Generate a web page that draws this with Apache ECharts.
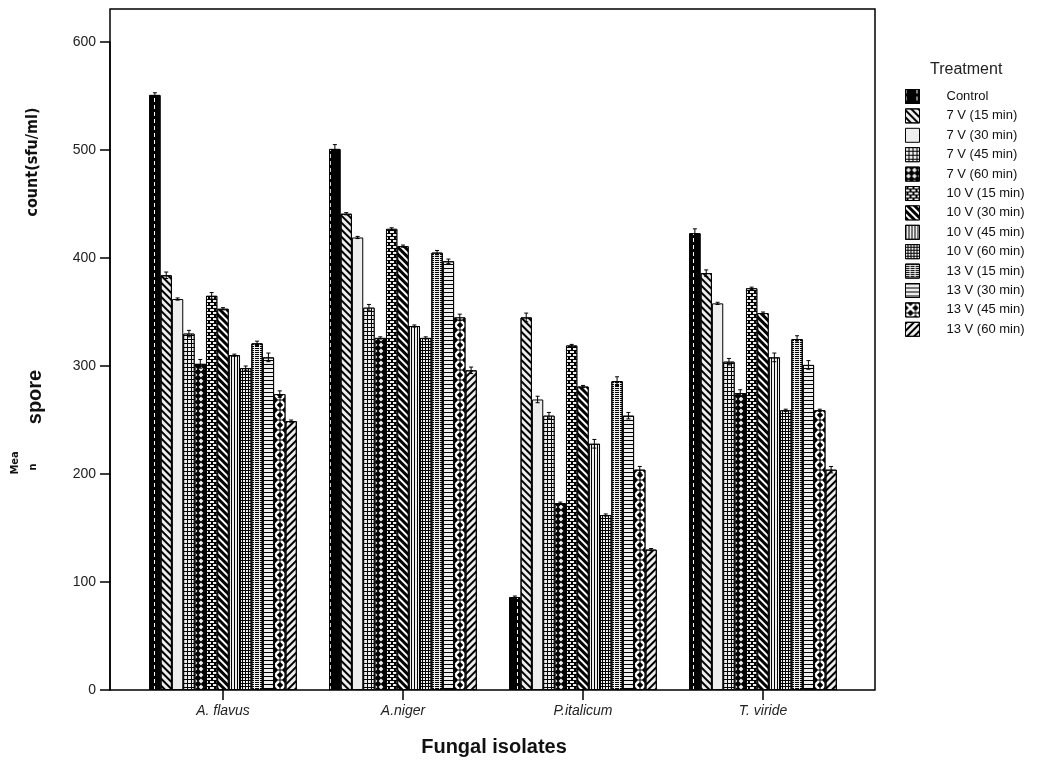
<!DOCTYPE html>
<html>
<head>
<meta charset="utf-8">
<script src="https://cdn.jsdelivr.net/npm/echarts@6/dist/echarts.min.js"></script>
<style>
  html, body { margin: 0; padding: 0; background: #fff; }
  #chart { width: 1040px; height: 766px; }
</style>
</head>
<body>
<div id="chart"></div>
<script>
const isolates = ['A. flavus', 'A.niger', 'P.italicum', 'T. viride'];
const treatments = ['Control', '7 V (15 min)', '7 V (30 min)', '7 V (45 min)', '7 V (60 min)',
    '10 V (15 min)', '10 V (30 min)', '10 V (45 min)', '10 V (60 min)',
    '13 V (15 min)', '13 V (30 min)', '13 V (45 min)', '13 V (60 min)'];

// mean spore count per treatment, in isolate order
const control = [551, 501, 86, 423];
const v7m15 = [384, 441, 345, 386];
const v7m30 = [362, 419, 269, 358];
const v7m45 = [330, 354, 254, 304];
const v7m60 = [302, 326, 173, 275];
const v10m15 = [365, 427, 319, 372];
const v10m30 = [353, 411, 281, 349];
const v10m45 = [310, 337, 228, 308];
const v10m60 = [298, 326, 162, 259];
const v13m15 = [321, 405, 286, 325];
const v13m30 = [308, 397, 254, 301];
const v13m45 = [274, 345, 204, 259];
const v13m60 = [249, 296, 130, 204];

// error bar half widths
const errControl = [2, 4, 1, 4];
const err7m15 = [3, 1, 4, 3];
const err7m30 = [1, 1, 3, 1];
const err7m45 = [3, 3, 3, 3];
const err7m60 = [4, 1, 1, 3];
const err10m15 = [3, 1, 1, 1];
const err10m30 = [1, 1, 1, 1];
const err10m45 = [1, 1, 4, 4];
const err10m60 = [2, 1, 1, 1];
const err13m15 = [2, 2, 4, 3];
const err13m30 = [4, 2, 3, 4];
const err13m45 = [3, 3, 3, 1];
const err13m60 = [1, 3, 1, 3];

const means = [control, v7m15, v7m30, v7m45, v7m60, v10m15, v10m30, v10m45, v10m60, v13m15, v13m30, v13m45, v13m60];
const errs = [errControl, err7m15, err7m30, err7m45, err7m60, err10m15, err10m30, err10m45, err10m60, err13m15, err13m30, err13m45, err13m60];

const LIGHT = '#eeeeee';
const xPath = 'path://M0,0L2,0L5,3L8,0L10,0L10,2L7,5L10,8L10,10L8,10L5,7L2,10L0,10L0,8L3,5L0,2Z';

// fill + hatch for each treatment
const looks = [
    { color: '#000', decal: { color: '#fff', dashArrayX: [1, 10], dashArrayY: [4, 3] } },
    { color: LIGHT, decal: { color: '#000', dashArrayX: [1, 0], dashArrayY: [2, 3], rotation: Math.PI / 4 } },
    { color: LIGHT, decal: null },
    { color: '#000', decal: { color: LIGHT, dashArrayX: [3, 1], dashArrayY: [3, 1] } },
    { color: '#000', decal: { color: LIGHT, symbol: 'diamond', symbolSize: 0.8, dashArrayX: [6, 0], dashArrayY: [6, 0] } },
    { color: '#000', decal: { color: LIGHT, dashArrayX: [[4, 2], [1, 2, 3, 0]], dashArrayY: [2, 1] } },
    { color: '#000', decal: { color: '#fff', dashArrayX: [1, 0], dashArrayY: [2, 3], rotation: Math.PI / 4 } },
    { color: LIGHT, decal: { color: '#000', dashArrayX: [1, 2], dashArrayY: [10, 0] } },
    { color: '#000', decal: { color: LIGHT, dashArrayX: [2, 1], dashArrayY: [2, 1] } },
    { color: LIGHT, decal: { color: '#000', dashArrayX: [4, 1], dashArrayY: [1, 1] } },
    { color: LIGHT, decal: { color: '#000', dashArrayX: [1, 0], dashArrayY: [1, 3] } },
    { color: '#000', decal: { color: '#fff', symbol: xPath, symbolSize: 0.9, dashArrayX: [10, 0], dashArrayY: [10, 0] } },
    { color: LIGHT, decal: { color: '#000', dashArrayX: [1, 0], dashArrayY: [2, 3], rotation: -Math.PI / 4 } }
];

const FONT = 'Liberation Sans, Arial, sans-serif';
const CAT_GAP = 0.18;

const series = treatments.map(function (name, i) {
    const style = { color: looks[i].color, borderColor: '#000', borderWidth: 1 };
    if (looks[i].decal) style.decal = Object.assign({ symbol: 'rect', symbolSize: 1 }, looks[i].decal);
    return {
        name: name,
        type: 'bar',
        barGap: '0%',
        barCategoryGap: (CAT_GAP * 100) + '%',
        itemStyle: style,
        emphasis: { disabled: true },
        data: means[i]
    };
});

// error bars drawn on top of every bar
const errData = [];
means.forEach(function (arr, s) {
    arr.forEach(function (v, c) {
        errData.push([c, v, errs[s][c], s]);
    });
});
series.push({
    type: 'custom',
    silent: true,
    z: 5,
    renderItem: function (params, api) {
        const c = api.value(0), v = api.value(1), e = api.value(2), s = api.value(3);
        const band = api.size([1, 0])[0];
        const bw = band * (1 - CAT_GAP) / treatments.length;
        const center = api.coord([c, v]);
        const x = center[0] + (s - (treatments.length - 1) / 2) * bw;
        const top = api.coord([c, v + e])[1];
        const bot = api.coord([c, v - e])[1];
        const st = { stroke: '#000', lineWidth: 1 };
        return {
            type: 'group',
            children: [
                { type: 'line', shape: { x1: x, y1: top, x2: x, y2: bot }, style: st },
                { type: 'line', shape: { x1: x - 2, y1: top, x2: x + 2, y2: top }, style: st },
                { type: 'line', shape: { x1: x - 2, y1: bot, x2: x + 2, y2: bot }, style: st }
            ]
        };
    },
    data: errData
});

const chart = echarts.init(document.getElementById('chart'));
chart.setOption({
    animation: false,
    backgroundColor: '#fff',
    textStyle: { fontFamily: FONT },
    grid: { left: 133, right: 187, top: 42, bottom: 76 },
    legend: {
        data: treatments,
        orient: 'vertical',
        left: 905,
        top: 89,
        icon: 'rect',
        itemWidth: 14,
        itemHeight: 14,
        itemGap: 4.4,
        padding: 0,
        itemStyle: { borderColor: '#000', borderWidth: 1 },
        textStyle: { fontSize: 13, lineHeight: 14, color: '#111', fontFamily: FONT, padding: [0, 0, 0, 22] },
        selectedMode: false
    },
    xAxis: {
        type: 'category',
        data: isolates,
        axisLine: { show: false },
        axisTick: { show: true, alignWithLabel: true, length: 10, lineStyle: { color: '#000', width: 1.5 } },
        axisLabel: { color: '#222', fontSize: 14, fontStyle: 'italic', margin: 14, fontFamily: FONT }
    },
    yAxis: {
        type: 'value',
        min: 0,
        max: 600,
        interval: 100,
        offset: 23,
        splitLine: { show: false },
        axisLine: { show: true, lineStyle: { color: '#000', width: 1.5 } },
        axisTick: { show: true, length: 10, lineStyle: { color: '#000', width: 1.5 } },
        axisLabel: { color: '#222', fontSize: 14, margin: 14, fontFamily: FONT }
    },
    graphic: [
        { type: 'rect', z: 100, silent: true, shape: { x: 110, y: 9, width: 765, height: 681 },
          style: { fill: 'none', stroke: '#000', lineWidth: 1.5 } },
        { type: 'text', left: 930, top: 62,
          style: { text: 'Treatment', font: '16px ' + FONT, fill: '#222' } },
        { type: 'text', x: 494, y: 747,
          style: { text: 'Fungal isolates', font: 'bold 20px ' + FONT, fill: '#111', align: 'center', verticalAlign: 'middle' } },
        { type: 'text', x: 33, y: 162, rotation: Math.PI / 2,
          style: { text: 'count(sfu/ml)', font: 'bold 16px DejaVu Sans Condensed, sans-serif', fill: '#111', align: 'center', verticalAlign: 'middle' } },
        { type: 'text', x: 35, y: 397, rotation: Math.PI / 2,
          style: { text: 'spore', font: 'bold 20px ' + FONT, fill: '#111', align: 'center', verticalAlign: 'middle' } },
        { type: 'text', x: 15, y: 463, rotation: Math.PI / 2,
          style: { text: 'Mea', font: 'bold 11px DejaVu Sans Condensed, sans-serif', fill: '#111', align: 'center', verticalAlign: 'middle' } },
        { type: 'text', x: 33, y: 467, rotation: Math.PI / 2,
          style: { text: 'n', font: 'bold 11px DejaVu Sans Condensed, sans-serif', fill: '#111', align: 'center', verticalAlign: 'middle' } }
    ],
    series: series
});
</script>
</body>
</html>
